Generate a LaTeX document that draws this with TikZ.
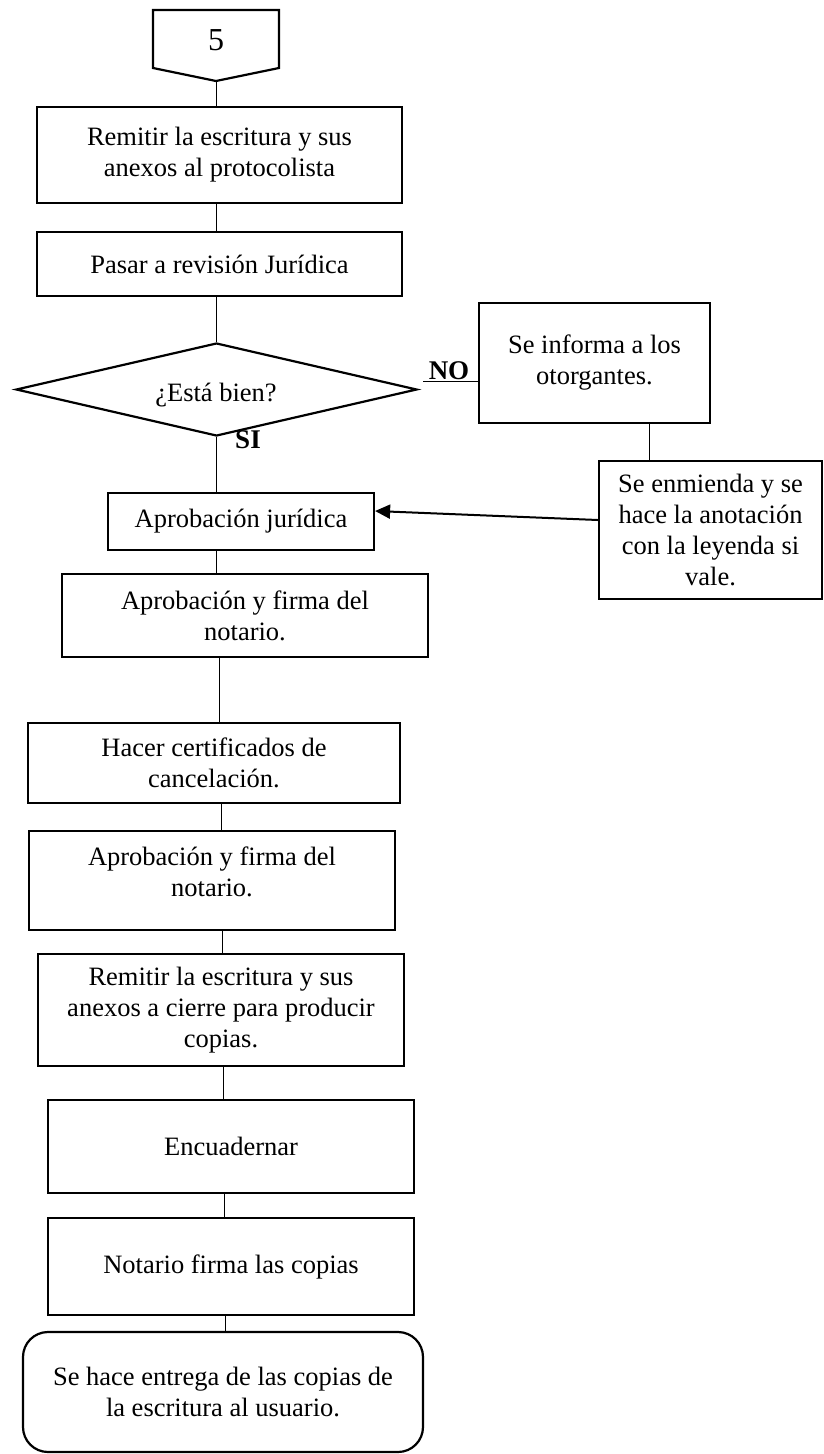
\documentclass[tikz,border=0pt]{standalone}
\usepackage{fontspec}
\setmainfont{Liberation Serif}
\usetikzlibrary{shapes.geometric,arrows.meta}
\begin{document}
\begin{tikzpicture}[x=1pt,y=-1pt,
  shp/.style={draw,line width=2.2pt},
  box/.style={shp,rectangle,inner sep=0pt,align=center,font=\fontsize{26.5}{31}\selectfont},
  txt/.style={inner sep=0pt,align=center,font=\fontsize{26.5}{31}\selectfont},
  conn/.style={line width=1pt},
  lbl/.style={font=\fontsize{27}{31}\selectfont\bfseries,inner sep=0pt}]
\useasboundingbox (0,0) rectangle (823,1454);
% axis coordinates for the vertical connectors
\coordinate (axA) at (216,0);
\coordinate (axB) at (219,0);
\coordinate (axC) at (221,0);
\coordinate (axD) at (222,0);
\coordinate (axE) at (223,0);
\coordinate (axF) at (224,0);
\coordinate (axG) at (225,0);
% off-page connector
\draw[shp] (153,10) -- (279,10) -- (279,68) -- (216,81) -- (153,68) -- cycle;
\coordinate (fivetip) at (216,81);
\node[font=\fontsize{32}{36}\selectfont,inner sep=0pt] (five) at (216,40) {5};

\node[box,minimum width=365,minimum height=96] (b1) at (219.5,155) {Remitir la escritura y sus\\anexos al protocolista};
\node[box,minimum width=365,minimum height=64] (b2) at (219.5,264) {Pasar a revisión Jurídica};
\node[shp,diamond,inner sep=0pt,aspect=4.3,minimum width=401,minimum height=93] (dmd) at (216.5,389.5) {};
\node[txt] (dmdtext) at (216,395) {¿Está bien?};
\node[box,minimum width=231,minimum height=120] (b3) at (594.5,363) {Se informa a los\\otorgantes.};
\node[box,minimum width=223,minimum height=138] (b4) at (710.5,530) {Se enmienda y se\\hace la anotación\\con la leyenda si\\vale.};
\node[box,minimum width=266,minimum height=57] (b5) at (241,521.5) {Aprobación jurídica};
\node[box,minimum width=366,minimum height=83] (b6) at (245,615.5) {Aprobación y firma del\\notario.};
\node[box,minimum width=372,minimum height=80] (b7) at (214,763) {Hacer certificados de\\cancelación.};
\node[box,minimum width=366,minimum height=99] (b8) at (212,880.5) {};
\node[txt] (b8text) at (212,872) {Aprobación y firma del\\notario.};
\node[box,minimum width=366,minimum height=112] (b9) at (221,1010) {Remitir la escritura y sus\\anexos a cierre para producir\\copias.};
\node[box,minimum width=366,minimum height=93] (b10) at (231,1146.5) {Encuadernar};
\node[box,minimum width=366,minimum height=97] (b11) at (231,1266.5) {Notario firma las copias};
\node[box,rounded corners=25pt,minimum width=400,minimum height=120] (b12) at (223,1392) {Se hace entrega de las copias de\\la escritura al usuario.};

% connectors
\draw[conn] (fivetip) -- (fivetip |- b1.north);
\draw[conn] (b1.south -| axA) -- (b2.north -| axA);
\draw[conn] (b2.south -| axA) -- (dmd.north -| axA);
\draw[conn] (dmd.south -| axA) -- (b5.north -| axA);
\draw[conn] (b5.south -| axA) -- (b6.north -| axA);
\draw[conn] (b6.south -| axB) -- (b7.north -| axB);
\draw[conn] (b7.south -| axC) -- (b8.north -| axC);
\draw[conn] (b8.south -| axD) -- (b9.north -| axD);
\draw[conn] (b9.south -| axE) -- (b10.north -| axE);
\draw[conn] (b10.south -| axF) -- (b11.north -| axF);
\draw[conn] (b11.south -| axG) -- (b12.north -| axG);
\coordinate (b3foot) at (649,0);
\draw[conn] (b3.south -| b3foot) -- (b4.north -| b3foot);
% NO branch
\coordinate (noA) at (423,381);
\draw[conn] (noA) -- (noA -| b3.west);
\node[lbl,anchor=base] (no) at (449,379) {NO};
\node[lbl,anchor=base] (si) at (248,448) {SI};
% return arrow
\draw[line width=2pt,-{Triangle[length=15pt,width=14pt]}] ([yshift=10pt]b4.west) -- ([yshift=10.5pt]b5.east);
\end{tikzpicture}
\end{document}
